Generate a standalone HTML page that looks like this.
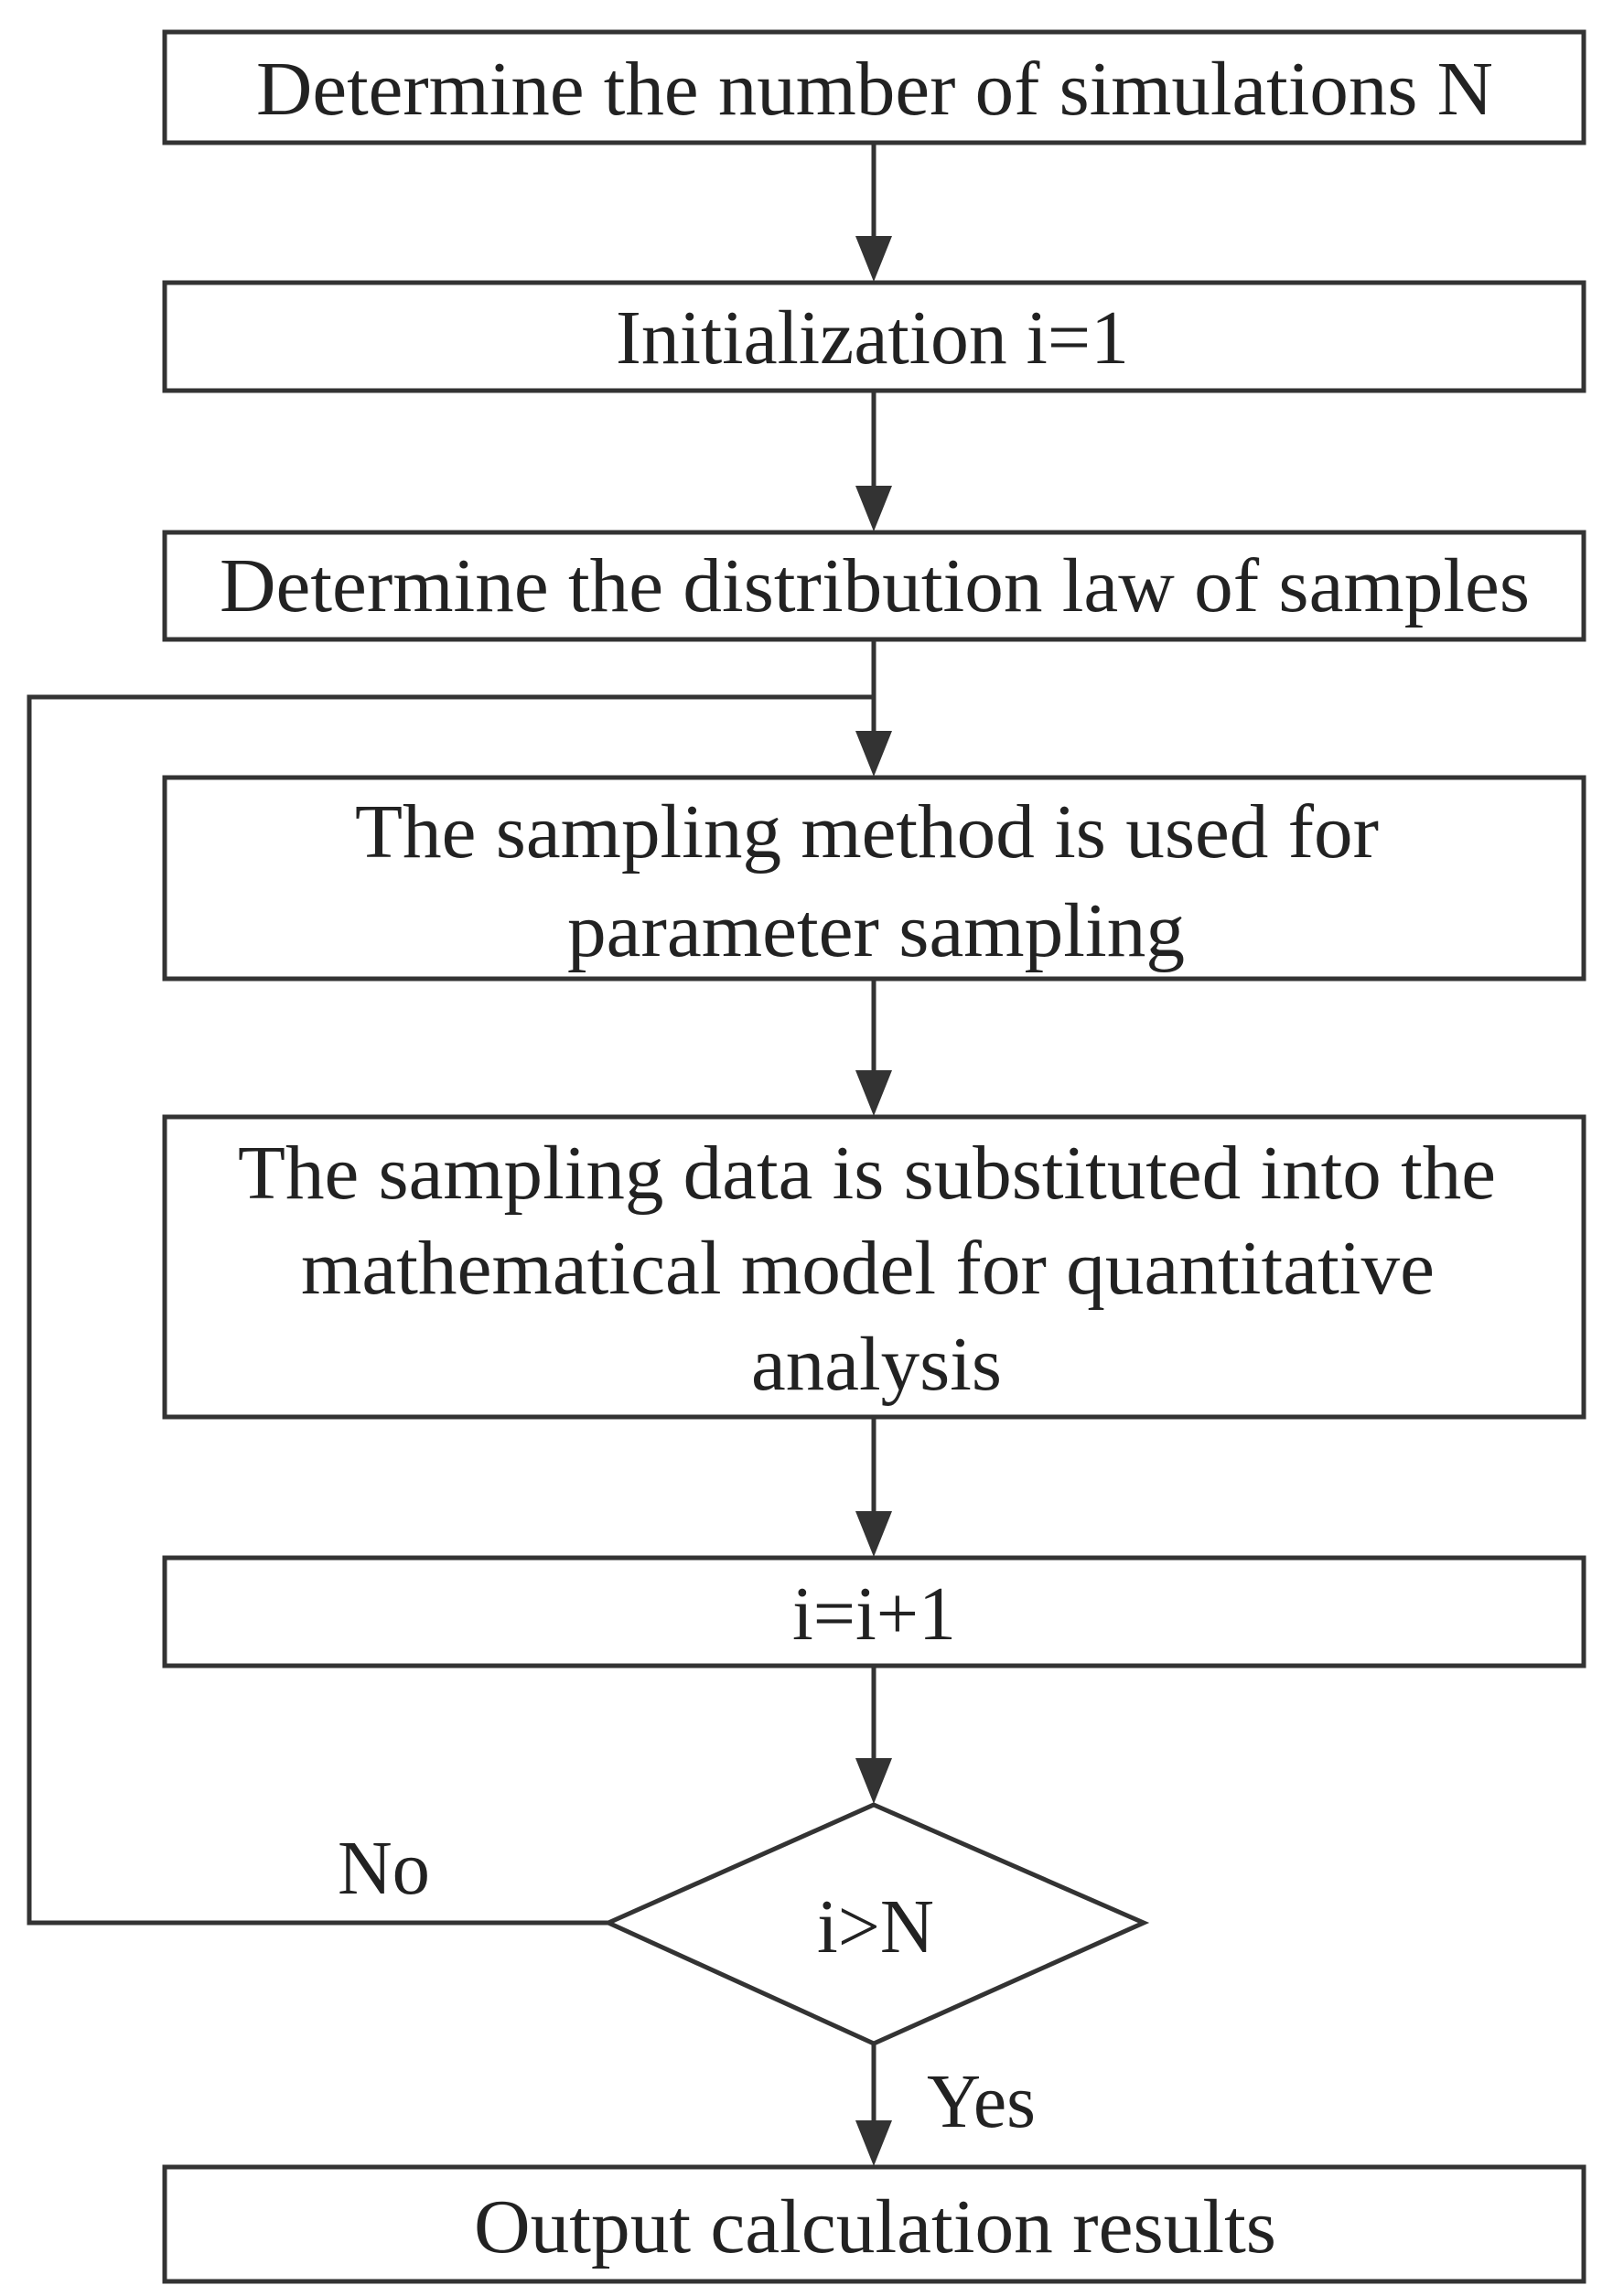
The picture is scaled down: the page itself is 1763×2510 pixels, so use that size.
<!DOCTYPE html>
<html><head><style>html,body{margin:0;padding:0;background:#fff}svg{display:block}</style></head>
<body>
<svg width="1763" height="2510" viewBox="0 0 1763 2510" xmlns="http://www.w3.org/2000/svg">
<g fill="none" stroke="#333" stroke-width="5">
<rect x="180" y="35" width="1551" height="121"/>
<rect x="180" y="309" width="1551" height="118"/>
<rect x="180" y="582" width="1551" height="117"/>
<rect x="180" y="850" width="1551" height="220"/>
<rect x="180" y="1221" width="1551" height="328"/>
<rect x="180" y="1703" width="1551" height="118"/>
<rect x="180" y="2369" width="1551" height="125"/>
<polygon points="955,1973 1250,2102 955,2234 665,2102"/>
<polyline points="665,2102 32,2102 32,762 955,762"/>
</g>
<g stroke="#333" stroke-width="5" fill="#333">
<line x1="955" y1="156" x2="955" y2="260"/><path d="M935,258 L975,258 L955,308 z" stroke="none"/>
<line x1="955" y1="427" x2="955" y2="533"/><path d="M935,531 L975,531 L955,581 z" stroke="none"/>
<line x1="955" y1="699" x2="955" y2="801"/><path d="M935,799 L975,799 L955,849 z" stroke="none"/>
<line x1="955" y1="1070" x2="955" y2="1172"/><path d="M935,1170 L975,1170 L955,1220 z" stroke="none"/>
<line x1="955" y1="1549" x2="955" y2="1654"/><path d="M935,1652 L975,1652 L955,1702 z" stroke="none"/>
<line x1="955" y1="1821" x2="955" y2="1924"/><path d="M935,1922 L975,1922 L955,1972 z" stroke="none"/>
<line x1="955" y1="2234" x2="955" y2="2320"/><path d="M935,2318 L975,2318 L955,2368 z" stroke="none"/>
</g>
<g font-family="Liberation Serif, serif" font-size="84" fill="#222">
<text x="280" y="125" textLength="1352" lengthAdjust="spacingAndGlyphs">Determine the number of simulations N</text>
<text x="673" y="397" textLength="561" lengthAdjust="spacingAndGlyphs">Initialization i=1</text>
<text x="240" y="668" textLength="1432" lengthAdjust="spacingAndGlyphs">Determine the distribution law of samples</text>
<text x="388" y="937" textLength="1119" lengthAdjust="spacingAndGlyphs">The sampling method is used for</text>
<text x="620" y="1045" textLength="675" lengthAdjust="spacingAndGlyphs">parameter sampling</text>
<text x="260" y="1310" textLength="1375" lengthAdjust="spacingAndGlyphs">The sampling data is substituted into the</text>
<text x="329" y="1414" textLength="1239" lengthAdjust="spacingAndGlyphs">mathematical model for quantitative</text>
<text x="821" y="1519" textLength="274" lengthAdjust="spacingAndGlyphs">analysis</text>
<text x="866" y="1792" textLength="179" lengthAdjust="spacingAndGlyphs">i=i+1</text>
<text x="893" y="2134" textLength="128" lengthAdjust="spacingAndGlyphs">i&gt;N</text>
<text x="369" y="2070" textLength="101" lengthAdjust="spacingAndGlyphs">No</text>
<text x="1013" y="2325" textLength="119" lengthAdjust="spacingAndGlyphs">Yes</text>
<text x="518" y="2462" textLength="877" lengthAdjust="spacingAndGlyphs">Output calculation results</text>
</g>
</svg>
</body></html>
